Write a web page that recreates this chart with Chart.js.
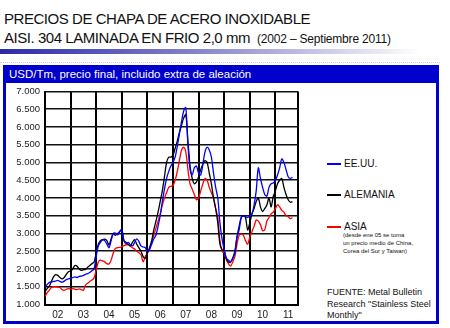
<!DOCTYPE html>
<html>
<head>
<meta charset="utf-8">
<script src="https://cdn.jsdelivr.net/npm/chart.js@4"></script>
<style>
  body { margin: 0; width: 450px; height: 328px; background: #fff; font-family: "Liberation Sans", Arial, sans-serif; position: relative; overflow: hidden; }
  .t1, .t2 { position: absolute; left: 4px; font-size: 15px; letter-spacing: -0.45px; color: #111; white-space: nowrap; }
  .t1 { top: 10px; }
  .t2 { top: 29px; }
  .t2 small { font-size: 12px; letter-spacing: -0.2px; margin-left: 7px; }
  .grad { position: absolute; left: 0; top: 49px; width: 420px; height: 5px; background: linear-gradient(to right, #2a2aa8, #8080c8 45%, #fff); }
  .dots { position: absolute; left: 0; top: 62px; width: 440px; border-top: 1px dotted #ccc; }
  .box { position: absolute; left: 3px; top: 65px; width: 430px; height: 256px; border: 3px solid #0000cc; border-top: none; }
  .head { position: absolute; left: 3px; top: 65px; width: 436px; height: 18px; background: #0000cc; color: #fff; font-size: 11.5px; line-height: 18px; }
  .head span { margin-left: 6px; }
  .leg { position: absolute; left: 327px; font-size: 10px; color: #111; white-space: nowrap; }
  .leg i { display: inline-block; width: 14px; height: 2px; vertical-align: middle; margin-right: 3px; }
  .note { position: absolute; left: 343px; top: 231px; font-size: 6px; line-height: 8px; color: #111; white-space: nowrap; }
  .src { position: absolute; left: 327px; top: 287px; font-size: 9px; line-height: 11.5px; color: #111; white-space: nowrap; }
  canvas { position: absolute; left: 0; top: 80px; }
</style>
</head>
<body>
<div class="t1">PRECIOS DE CHAPA DE ACERO INOXIDABLE</div>
<div class="t2">AISI. 304 LAMINADA EN FRIO 2,0 mm<small>(2002 – Septiembre 2011)</small></div>
<div class="grad"></div>
<div class="dots"></div>
<div class="box"></div>
<div class="head"><span>USD/Tm, precio final, incluido extra de aleación</span></div>
<div class="leg" style="top:158px"><i style="background:#0000ff"></i>EE.UU.</div>
<div class="leg" style="top:189px"><i style="background:#000"></i>ALEMANIA</div>
<div class="leg" style="top:221px"><i style="background:#ff0000"></i>ASIA</div>
<div class="note">(desde ene 05 se toma<br>un precio medio de China,<br>Corea del Sur y Taiwan)</div>
<div class="src">FUENTE: Metal Bulletin<br>Research "Stainless Steel<br>Monthly"</div>
<canvas id="myChart" width="305" height="245"></canvas>
<script>
// year labels, one per year (Jan 2002 .. Sep 2011)
const years = ['02', '03', '04', '05', '06', '07', '08', '09', '10', '11'];

// monthly prices USD/Tm, Jan 2002 .. Sep 2011
const eeuu = [
  1500, 1560, 1620, 1640, 1650, 1660, 1680, 1650, 1630, 1660, 1700, 1720,
  1740, 1760, 1780, 1760, 1790, 1800, 1820, 1850, 1870, 1900, 1950, 2000,
  2350, 2650, 2750, 2820, 2800, 2700, 2600, 2800, 3000, 3010, 2960, 3050,
  3100, 2800, 2700, 2750, 2680, 2650, 2750, 2850, 2780, 2650, 2620, 2600,
  2480, 2550, 2700, 2850, 2950, 3200, 3500, 3900, 4250, 4550, 4750, 4900,
  5000, 5150, 5450, 5800, 6150, 6450, 6550, 5500, 4800, 4650, 4850, 4900,
  4700, 4650, 4950, 5300, 5430, 5350, 5150, 4700, 4300, 4000, 3300, 2850,
  2550, 2300, 2250, 2200, 2300, 2450, 2900, 3100, 3450, 3500, 3480, 3450,
  3500, 3550, 3800, 4200, 4850, 4550, 4300, 4100, 4050, 4300, 4400, 4420,
  4500, 4650, 4850, 5100, 5000, 4800, 4600, 4550, 4580
];
const alemania = [
  1360, 1450, 1520, 1650, 1780, 1840, 1820, 1760, 1720, 1760, 1850, 1920,
  1950, 2000, 2100, 2080, 2000, 1960, 1980, 1990, 2050, 2100, 2150, 2200,
  2450, 2700, 2800, 2830, 2840, 2800, 2680, 2850, 3000, 2950, 3000, 3050,
  3120, 2800, 2750, 2700, 2650, 2750, 2830, 2700, 2600, 2500, 2350, 2300,
  2450, 2600, 2800, 3100, 3350, 3600, 3900, 4200, 4600, 5000, 5150, 5150,
  5200, 5400, 5600, 5850, 6050, 6250, 6350, 5600, 4900, 4550, 4400, 4450,
  4600, 4800, 4950, 5050, 5000, 4700, 4400, 4000, 3700, 3300, 2700, 2550,
  2500, 2300, 2200, 2200, 2300, 2500, 2900, 3200, 3450, 3500, 3450, 3100,
  3300, 3550, 3700, 3900, 4000, 3750, 3620, 3700, 3800, 4000, 3750, 4050,
  4200, 4400, 4500, 4550, 4300, 4100, 3950, 3880, 3900
];
const asia = [
  1220, 1330, 1400, 1480, 1500, 1500, 1490, 1480, 1420, 1400, 1430, 1450,
  1430, 1450, 1430, 1420, 1440, 1420, 1400, 1550, 1600, 1650, 1690, 1750,
  1970, 2200, 2250, 2230, 2200, 2150, 2140, 2250, 2450, 2580, 2600, 2610,
  2630, 2660, 2680, 2680, 2640, 2600, 2560, 2500, 2460, 2400, 2200, 2350,
  2450, 2550, 2750, 2950, 3150, 3350, 3550, 3800, 4000, 4150, 4300, 4330,
  4350, 4500, 4750, 5050, 5350, 5430, 5300, 4800, 4400, 4250, 4100, 3950,
  4000, 4200, 4400, 4550, 4500, 4300, 4150, 4000, 3700, 3450, 2800, 2500,
  2450, 2250, 2150, 2080, 2200, 2350, 2700, 2950, 2980, 2950, 2800, 2700,
  2900, 3050, 3200, 3380, 3350, 3250, 3080, 3100, 3350, 3450, 3550, 3600,
  3700, 3810, 3750, 3650, 3600, 3500, 3480, 3420, 3450
];

const xMax = 118.6;
const toPoints = arr => arr.map((v, i) => ({ x: i, y: v }));

const config = {
  type: 'line',
  data: {
    datasets: [
      { label: 'EE.UU.', data: toPoints(eeuu), borderColor: '#0000ff' },
      { label: 'ALEMANIA', data: toPoints(alemania), borderColor: '#000000' },
      { label: 'ASIA', data: toPoints(asia), borderColor: '#ff0000' }
    ]
  },
  options: {
    responsive: false,
    animation: false,
    layout: { padding: { top: 11.5, right: 7, left: 0, bottom: 0 } },
    elements: {
      point: { radius: 0 },
      line: { borderWidth: 1.3, tension: 0.3 }
    },
    plugins: { legend: { display: false }, tooltip: { enabled: false } },
    scales: {
      x: {
        type: 'linear',
        min: 0,
        max: xMax,
        afterBuildTicks: s => {
          const t = [];
          for (let v = 0; v <= 114; v += 6) t.push({ value: v });
          t.push({ value: xMax });
          s.ticks = t;
        },
        afterFit: s => { s.height = 20.5; },
        grid: {
          drawTicks: false,
          lineWidth: 2,
          color: c => (c.tick && (c.tick.value % 12 === 0 || c.tick.value === xMax)) ? '#000' : 'rgba(0,0,0,0)'
        },
        border: { color: '#000', width: 2 },
        ticks: {
          autoSkip: false,
          maxRotation: 0,
          padding: 5,
          color: '#222',
          font: { family: 'Liberation Sans', size: 10 },
          callback: v => (v % 12 === 6 ? years[(v - 6) / 12] : '')
        }
      },
      y: {
        min: 1000,
        max: 7000,
        afterFit: s => { s.width = 45; },
        grid: { drawTicks: false, lineWidth: 1.6, color: '#111' },
        border: { color: '#000', width: 2 },
        ticks: {
          stepSize: 500,
          padding: 5,
          color: '#222',
          font: { family: 'Liberation Sans', size: 9.5 },
          callback: v => (v / 1000).toFixed(3)
        }
      }
    }
  }
};

new Chart(document.getElementById('myChart'), config);
</script>
</body>
</html>
